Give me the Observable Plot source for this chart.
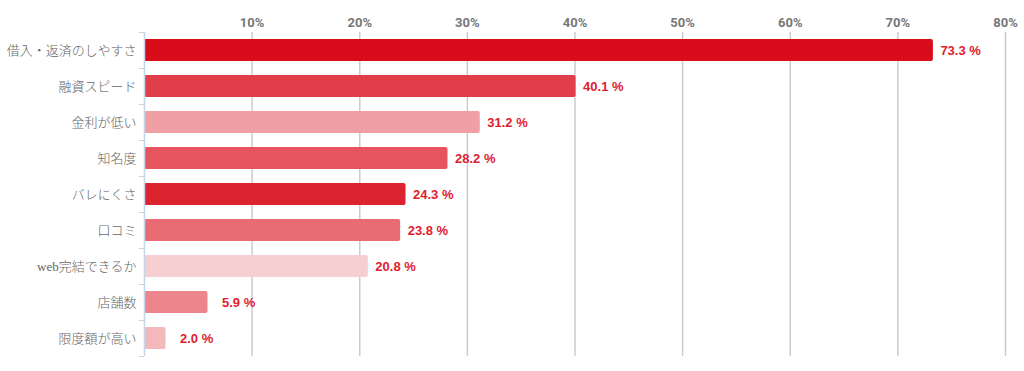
<!DOCTYPE html>
<html><head><meta charset="utf-8">
<script src="https://cdn.jsdelivr.net/npm/d3@7"></script>
<script src="https://cdn.jsdelivr.net/npm/@observablehq/plot@0.6"></script>
<style>
body{margin:0;background:#fff;}
#chart svg{display:block;}
</style></head><body><div id="chart"></div>
<script>
const categories = ["借入・返済のしやすさ","融資スピード","金利が低い","知名度","バレにくさ","口コミ","web完結できるか","店舗数","限度額が高い"];
const values = [73.3, 40.1, 31.2, 28.2, 24.3, 23.8, 20.8, 5.9, 2.0];
const colors = ["#d90c1c","#e03e4a","#f0a0a5","#e5545f","#dc2330","#e96b74","#f6cfd3","#ec858c","#f3b8bc"];
const tickValues = [10,20,30,40,50,60,70,80];

const data = categories.map((c,i)=>({cat:c, v:values[i], col:colors[i]}));

const chart = Plot.plot({
  width:1024, height:371,
  marginLeft:144, marginRight:19, marginTop:32, marginBottom:15,
  style:{fontFamily:"Roboto, 'Noto Sans CJK JP', sans-serif", background:"#fff"},
  x:{domain:[0,80], axis:null, label:null},
  y:{domain:categories, paddingInner:0.39, paddingOuter:0.195, axis:null, label:null},
  marks:[
    Plot.gridX(tickValues, {stroke:"#cccccc", strokeOpacity:1, strokeWidth:1.5}),
    Plot.axisX(tickValues, {anchor:"top", label:null, tickSize:0, tickPadding:6, tickFormat:d=>d+"%", fontWeight:"bold", fontSize:13, fill:"#777", fontFamily:"Roboto, sans-serif"}),
    Plot.barX(data, {x:"v", y:"cat", fill:"col", rx:2}),
    Plot.text(data, {x:"v", y:"cat", text:d=>d.v.toFixed(1)+" %", textAnchor:"start", fill:"#e0202e", fontWeight:"bold", fontSize:13, fontFamily:"'Liberation Sans', Arial, sans-serif"}),
    Plot.ruleX([0], {stroke:"#c5d5ea", strokeWidth:1.5}),
    Plot.axisY({label:null, tickSize:5, dy:-18, text:null, stroke:"#c5d5ea"}),
    Plot.axisY({label:null, tickSize:5, dy:18, text:null, stroke:"#c5d5ea"}),
    Plot.axisY({label:null, tickSize:0, tickPadding:8, fontSize:13, fontWeight:300, fill:"#666", fontFamily:"'Liberation Serif', 'Noto Sans CJK JP', serif"})
  ]
});
// label offsets: larger gap for short bars
d3.select(chart).selectAll("g[aria-label='text'] text").attr("dx", (d,i)=> values[i] < 10 ? 14 : 7);
document.getElementById("chart").appendChild(chart);
</script></body></html>
